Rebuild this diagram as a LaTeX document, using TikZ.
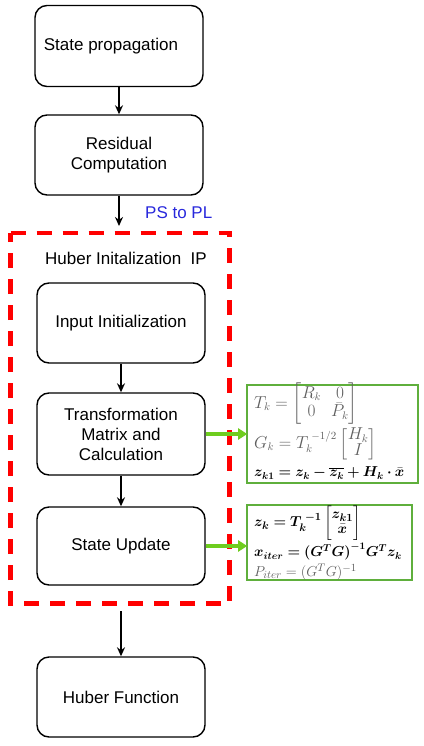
\documentclass[tikz,border=0pt]{standalone}
\usepackage{amsmath,bm}
\usepackage{fontspec}
\setmainfont{Liberation Sans}
\usetikzlibrary{arrows.meta}
\definecolor{gline}{RGB}{95,175,60}
\definecolor{garrow}{RGB}{110,205,30}
\definecolor{pstext}{RGB}{40,40,220}
\definecolor{greytext}{RGB}{95,95,95}
\tikzset{
  blk/.style={draw=black, line width=1.4pt, rounded corners=12pt, fill=white, align=center,
    font=\fontsize{17}{20}\selectfont, inner sep=0pt},
  flow/.style={-{Stealth[length=9pt,width=8pt]}, line width=2pt, black},
  garr/.style={-{Triangle[length=9pt,width=11pt]}, line width=3.6pt, garrow, shorten >=-1pt},
  gbox/.style={draw=gline, line width=1.6pt, inner sep=0pt},
  reddash/.style={draw=red, line width=4.5pt, dash pattern=on 15pt off 11pt},
  eq/.style={anchor=west, inner sep=0pt, font=\fontsize{14}{16}\selectfont},
  eqg/.style={eq, text=greytext, font=\fontsize{16}{18}\selectfont},
  lbl/.style={font=\fontsize{17}{20}\selectfont, inner sep=0pt}
}
\begin{document}
\begin{tikzpicture}[x=1pt,y=-1pt]
\useasboundingbox (0,0) rectangle (423,746);
% main boxes
\node[blk, minimum width=168pt, minimum height=81pt] (sp) at (119,46) {\hspace*{-16pt}State propagation};
\node[blk, minimum width=168pt, minimum height=80pt] (rc) at (119,155) {Residual\\Computation};
% red dashed frame
\draw[reddash] (10.5,233) -- (229.5,233) -- (229.5,603.5) -- (10.5,603.5) -- cycle;
\coordinate (frtop) at (119,226);
\coordinate (frbot) at (121,611);
\node[lbl, text=pstext, anchor=west] (ps) at (145,213) {PS to PL};
\node[lbl, anchor=west] (hip) at (45,258) {Huber Initalization\ \ IP};
\node[blk, minimum width=168pt, minimum height=80pt] (ii) at (121,323) {Input Initialization};
\node[blk, minimum width=168pt, minimum height=82pt] (tm) at (121,434) {Transformation\\Matrix and\\Calculation};
\node[blk, minimum width=168pt, minimum height=78pt] (su) at (121,546) {State Update};
\node[blk, minimum width=168pt, minimum height=80pt] (hf) at (121,697) {Huber Function};
% arrows
\draw[flow] (sp.south) -- (rc.north);
\draw[flow] (rc.south) -- (frtop);
\draw[flow] (ii.south) -- (tm.north);
\draw[flow] (tm.south) -- (su.north);
\draw[flow] (frbot) -- (hf.north);
% green boxes
\node[gbox, minimum width=171pt, minimum height=98pt] (g1) at (332.5,434) {};
\node[gbox, minimum width=165pt, minimum height=75pt] (g2) at (329.5,542.5) {};
\draw[garr] (tm.east) -- (tm.east -| g1.west);
\draw[garr] (su.east) -- (su.east -| g2.west);
% equations box 1
{\renewcommand{\arraystretch}{0.85}
\node[eqg] (e1) at (254,404) {$T_k=\begin{bmatrix}R_k & 0\\ 0 & \bar{P}_k\end{bmatrix}$};
\node[eqg] (e2) at (254,444) {$G_k=T_k^{\;-1/2}\begin{bmatrix}H_k\\ I\end{bmatrix}$};
\node[eq] (f1) at (254,523) {\fontsize{15}{17}\selectfont$\bm{z_k=T_k^{\;-1}}\begin{bmatrix}\bm{z_{k1}}\\ \bm{\bar{x}}\end{bmatrix}$};
}
\node[eq] (e3) at (254,473) {$\bm{z_{k1}=z_k-\overline{z_k}+H_k\cdot\bar{x}}$};
% equations box 2
\node[eq] (f2) at (254,552) {$\bm{x_{iter}=(G^TG)^{-1}G^Tz_k}$};
\node[eqg, font=\fontsize{15}{17}\selectfont] (f3) at (254,572) {$P_{iter}=(G^TG)^{-1}$};
\end{tikzpicture}
\end{document}
